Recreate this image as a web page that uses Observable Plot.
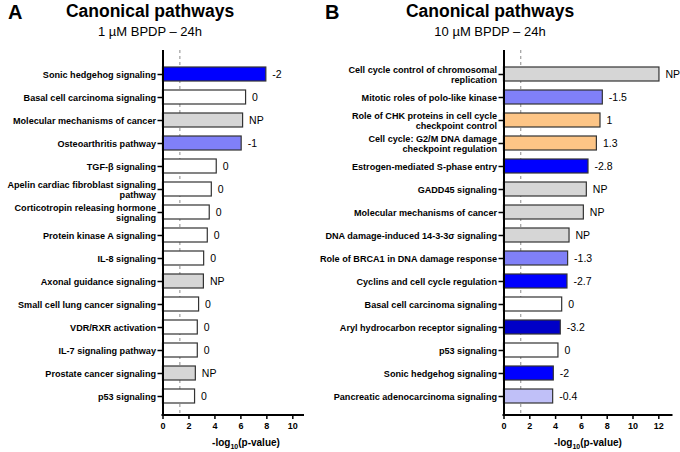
<!DOCTYPE html>
<html><head><meta charset="utf-8">
<script src="https://cdn.jsdelivr.net/npm/d3@7"></script>
<script src="https://cdn.jsdelivr.net/npm/@observablehq/plot@0.6"></script>
<style>
body{margin:0;background:#fff;font-family:"Liberation Sans",Arial,sans-serif;color:#000}
#wrap{position:relative;width:680px;height:452px;overflow:hidden;background:#fff}
.panel{position:absolute;top:0}
.abs{position:absolute;white-space:nowrap}
.letter{font-weight:bold;font-size:20px;top:1px}
.title{font-weight:bold;font-size:17.5px;top:1px;transform:translateX(-50%)}
.sub{font-size:13px;top:24px;transform:translateX(-50%)}
.xlab{font-weight:bold;font-size:10px;top:437px;transform:translateX(-50%)}
.xlab sub{font-size:7px}
</style></head>
<body><div id="wrap">
<div class="abs letter" style="left:8px">A</div>
<div class="abs letter" style="left:325px">B</div>
<div class="abs title" style="left:150px">Canonical pathways</div>
<div class="abs sub" style="left:150px">1 µM BPDP – 24h</div>
<div class="abs title" style="left:490px">Canonical pathways</div>
<div class="abs sub" style="left:490px">10 µM BPDP – 24h</div>
<div class="abs xlab" style="left:246px">-log<sub>10</sub>(p-value)</div>
<div class="abs xlab" style="left:588px">-log<sub>10</sub>(p-value)</div>
</div>
<script>
// Panel A data
const pathwaysA = [
  "Sonic hedgehog signaling",
  "Basal cell carcinoma signaling",
  "Molecular mechanisms of cancer",
  "Osteoarthritis pathway",
  "TGF-β signaling",
  "Apelin cardiac fibroblast signaling\npathway",
  "Corticotropin releasing hormone\nsignaling",
  "Protein kinase A signaling",
  "IL-8 signaling",
  "Axonal guidance signaling",
  "Small cell lung cancer signaling",
  "VDR/RXR activation",
  "IL-7 signaling pathway",
  "Prostate cancer signaling",
  "p53 signaling"
];
const neglogpA = [7.96, 6.4, 6.17, 6.06, 4.14, 3.76, 3.6, 3.45, 3.17, 3.15, 2.78, 2.68, 2.68, 2.53, 2.47];
const zA = ["-2", "0", "NP", "-1", "0", "0", "0", "0", "0", "NP", "0", "0", "0", "NP", "0"];

// Panel B data
const pathwaysB = [
  "Cell cycle control of chromosomal\nreplication",
  "Mitotic roles of polo-like kinase",
  "Role of CHK proteins in cell cycle\ncheckpoint control",
  "Cell cycle: G2/M DNA damage\ncheckpoint regulation",
  "Estrogen-mediated S-phase entry",
  "GADD45 signaling",
  "Molecular mechanisms of cancer",
  "DNA damage-induced 14-3-3σ signaling",
  "Role of BRCA1 in DNA damage response",
  "Cyclins and cell cycle regulation",
  "Basal cell carcinoma signaling",
  "Aryl hydrocarbon receptor signaling",
  "p53 signaling",
  "Sonic hedgehog signaling",
  "Pancreatic adenocarcinoma signaling"
];
const neglogpB = [12.05, 7.66, 7.48, 7.2, 6.55, 6.42, 6.19, 5.08, 4.97, 4.92, 4.51, 4.4, 4.22, 3.86, 3.81];
const zB = ["NP", "-1.5", "1", "1.3", "-2.8", "NP", "NP", "NP", "-1.3", "-2.7", "0", "-3.2", "0", "-2", "-0.4"];

const xTicksA = [0, 2, 4, 6, 8, 10];
const xTicksB = [0, 2, 4, 6, 8, 10, 12];
const threshold = 1.3;

const zDomain = ["-3.2", "-2.8", "-2.7", "-2", "-1.5", "-1.3", "-1", "-0.4", "0", "NP", "1", "1.3"];
const zColors = ["#0000c8", "#0000ff", "#0000ff", "#0000ff", "#8080f8", "#8080f8", "#8080f8", "#c0c0f8", "#ffffff", "#d6d6d6", "#fdc586", "#fdc586"];

function panel(names, vals, zs, xmax, ticks, opts) {
  const data = names.map((n, i) => ({name: n, v: vals[i], z: zs[i]}));
  const bottomLine = (index, scales, values, dim) => {
    const g = d3.create("svg:line")
      .attr("x1", dim.marginLeft - 1).attr("x2", dim.width - dim.marginRight)
      .attr("y1", dim.height - dim.marginBottom).attr("y2", dim.height - dim.marginBottom)
      .attr("stroke", "#000").attr("stroke-width", 2);
    return g.node();
  };
  return Plot.plot({
    width: opts.width, height: 452,
    marginTop: 50, marginBottom: 37, marginLeft: opts.marginLeft, marginRight: opts.marginRight,
    style: {background: "transparent", overflow: "visible", fontFamily: "Liberation Sans, Arial, sans-serif", color: "#000"},
    x: {domain: [0, xmax], label: null},
    y: {domain: names, range: [57.5, 412.5], paddingInner: 0.37, paddingOuter: 0.185, label: null},
    color: {type: "ordinal", domain: zDomain, range: zColors},
    marks: [
      Plot.ruleX([threshold], {stroke: "#8a8a8a", strokeDasharray: "3,3", strokeWidth: 1}),
      Plot.barX(data, {x: "v", y: "name", fill: "z", stroke: "#333", strokeWidth: 1.2}),
      Plot.text(data, {x: "v", y: "name", text: "z", textAnchor: "start", dx: 6, fontSize: 10.5, fill: "#000"}),
      Plot.axisY({tickSize: 5, tickPadding: 2, fontSize: 9.1, fontWeight: "bold", strokeWidth: 1.5, label: null, lineHeight: 1.08}),
      Plot.axisX({ticks: ticks, tickSize: 4, tickPadding: 3, fontSize: 9, fontWeight: "bold", strokeWidth: 1.5, label: null}),
      Plot.ruleX([0], {stroke: "#000", strokeWidth: 2}),
      bottomLine
    ]
  });
}

const wrap = document.getElementById("wrap");
const a = panel(pathwaysA, neglogpA, zA, 10.9, xTicksA, {width: 314, marginLeft: 162.5, marginRight: 10});
a.classList.add("panel"); a.style.left = "0px";
const b = panel(pathwaysB, neglogpB, zB, 13.1, xTicksB, {width: 360, marginLeft: 183.5, marginRight: 7.5});
b.classList.add("panel"); b.style.left = "320px";
wrap.insertBefore(a, wrap.firstChild);
wrap.insertBefore(b, wrap.firstChild);
</script>
</body></html>
